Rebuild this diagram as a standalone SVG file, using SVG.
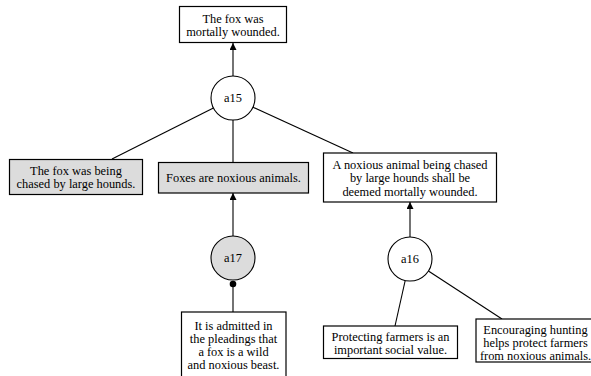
<svg xmlns="http://www.w3.org/2000/svg" width="591" height="376" viewBox="0 0 591 376">
<defs>
<style>
.box{fill:#ffffff;stroke:#000;stroke-width:1.2}
.circ{fill:#ffffff;stroke:#000;stroke-width:1.1}
.gray{fill:#dcdcdc}
text{font-family:"Liberation Serif","Times New Roman",serif;font-size:12.4px;fill:#000;text-anchor:middle}
.edge{stroke:#000;stroke-width:1.1;fill:none}
</style>
<marker id="arr" viewBox="0 0 10 10" refX="10" refY="5" markerWidth="9" markerHeight="7" markerUnits="userSpaceOnUse" orient="auto">
<path d="M0,0 L10,5 L0,10 z" fill="#000"/>
</marker>
</defs>
<rect width="591" height="376" fill="#ffffff"/>
<g id="connectors">
<line class="edge" x1="233" y1="76" x2="233" y2="43" marker-end="url(#arr)"/>
<line class="edge" x1="213.4" y1="108" x2="112" y2="159"/>
<line class="edge" x1="233" y1="120" x2="233" y2="162"/>
<line class="edge" x1="253" y1="107.2" x2="353" y2="153"/>
<line class="edge" x1="233" y1="236" x2="233" y2="193" marker-end="url(#arr)"/>
<line class="edge" x1="233" y1="312" x2="233" y2="282"/>
<circle cx="233" cy="284" r="3.3" fill="#000"/>
<line class="edge" x1="410" y1="237" x2="410" y2="202" marker-end="url(#arr)"/>
<line class="edge" x1="405.2" y1="280.5" x2="395" y2="326"/>
<line class="edge" x1="428.4" y1="271" x2="502" y2="319"/>
</g>
<g id="n_top">
<rect class="box" x="179.5" y="6.5" width="107" height="36"/>
<text x="233" y="22.5">The fox was</text>
<text x="233" y="36">mortally wounded.</text>
</g>
<g id="a15">
<circle class="circ" cx="233" cy="98" r="22"/>
<text x="233" y="102">a15</text>
</g>
<g id="n_chased">
<rect class="box gray" x="9.5" y="159.5" width="133" height="35"/>
<text x="76" y="175">The fox was being</text>
<text x="76" y="188">chased by large hounds.</text>
</g>
<g id="n_foxes">
<rect class="box gray" x="158.5" y="162.5" width="150" height="30.5"/>
<text x="233.5" y="182">Foxes are noxious animals.</text>
</g>
<g id="n_rule">
<rect class="box" x="323.5" y="153" width="173" height="49"/>
<text x="410" y="169">A noxious animal being chased</text>
<text x="410" y="182.3">by large hounds shall be</text>
<text x="410" y="195.6">deemed mortally wounded.</text>
</g>
<g id="a17">
<circle class="circ gray" cx="233" cy="258" r="22"/>
<text x="233" y="262">a17</text>
</g>
<g id="n_admitted">
<rect class="box" x="181.5" y="312" width="104.5" height="70"/>
<text x="233.5" y="330">It is admitted in</text>
<text x="233.5" y="342.8">the pleadings that</text>
<text x="233.5" y="355.8">a fox is a wild</text>
<text x="233.5" y="369">and noxious beast.</text>
</g>
<g id="a16">
<circle class="circ" cx="410" cy="259" r="22"/>
<text x="410" y="263">a16</text>
</g>
<g id="n_protect">
<rect class="box" x="323.5" y="326" width="134" height="32.5"/>
<text x="390.5" y="341.3">Protecting farmers is an</text>
<text x="390.5" y="354.3">important social value.</text>
</g>
<g id="n_encourage">
<rect class="box" x="476" y="319" width="120" height="43"/>
<text x="535.5" y="334">Encouraging hunting</text>
<text x="535.5" y="346.8">helps protect farmers</text>
<text x="535.5" y="359.6">from noxious animals.</text>
</g>
</svg>
